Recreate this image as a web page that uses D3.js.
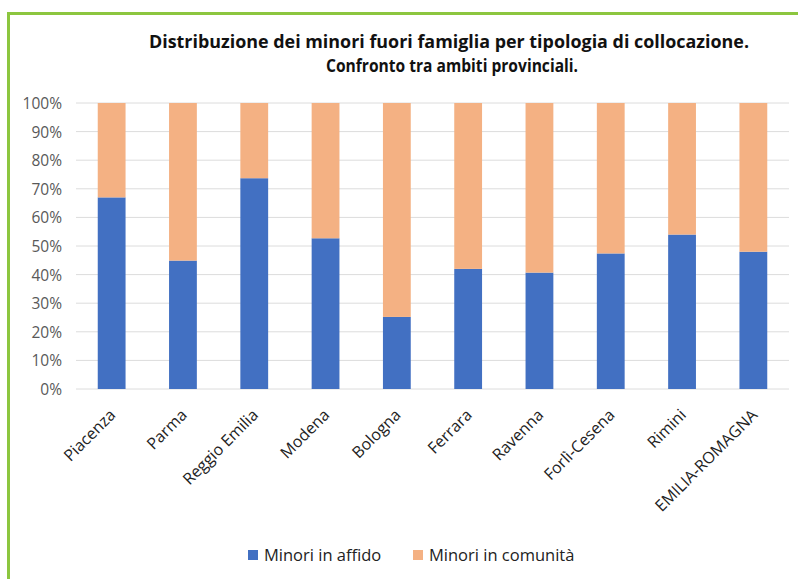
<!DOCTYPE html>
<html>
<head>
<meta charset="utf-8">
<script src="https://cdn.jsdelivr.net/npm/d3@7"></script>
<style>
  html, body { margin: 0; padding: 0; background: #fff; }
  svg { display: block; }
</style>
</head>
<body>
<svg id="chart" width="798" height="579"></svg>
<script>
const categories = ["Piacenza", "Parma", "Reggio Emilia", "Modena", "Bologna", "Ferrara", "Ravenna", "Forlì-Cesena", "Rimini", "EMILIA-ROMAGNA"];
const affido   = [67.0, 44.9, 73.7, 52.7, 25.2, 42.0, 40.7, 47.4, 54.0, 48.0];
const comunita = [33.0, 55.1, 26.3, 47.3, 74.8, 58.0, 59.3, 52.6, 46.0, 52.0];
const seriesNames = ["Minori in affido", "Minori in comunità"];
const yTicks = [0, 10, 20, 30, 40, 50, 60, 70, 80, 90, 100];
const titleLines = ["Distribuzione  dei minori fuori famiglia per tipologia di collocazione.", "Confronto tra ambiti provinciali."];

const colors = ["#4270C2", "#F4B183"];
const svg = d3.select("#chart");
const W = 798, H = 579;
const font = "'Open Sans', 'DejaVu Sans', sans-serif";

// green frame
svg.append("rect").attr("x", 8.5).attr("y", 13.5).attr("width", W + 20).attr("height", H + 20)
  .attr("fill", "#fff").attr("stroke", "#8CC63F").attr("stroke-width", 3);

const margin = { left: 76, right: 9, top: 103, bottom: 190 };
const x = d3.scaleBand().domain(categories).range([margin.left, W - margin.right]).paddingInner(0.61).paddingOuter(0.305);
const y = d3.scaleLinear().domain([0, 100]).range([H - margin.bottom, margin.top]);

// gridlines
svg.append("g").selectAll("line").data(yTicks).join("line")
  .attr("x1", margin.left).attr("x2", W - margin.right)
  .attr("y1", d => y(d)).attr("y2", d => y(d))
  .attr("stroke", "#dcdcdc").attr("stroke-width", 1);

// y axis labels
const yAxis = d3.axisLeft(y).tickValues(yTicks).tickFormat(d => d + "%").tickSize(0).tickPadding(0);
const ya = svg.append("g").attr("transform", `translate(62,0)`).call(yAxis);
ya.select(".domain").remove();
ya.selectAll("text").attr("font-family", font).attr("font-size", 15.5).attr("fill", "#595959").attr("dy", "0.35em");

// stacked bars
const rows = categories.map((c, i) => ({ cat: c, affido: affido[i], comunita: comunita[i] }));
const stack = d3.stack().keys(["affido", "comunita"])(rows);
svg.append("g").selectAll("g").data(stack).join("g")
  .attr("fill", (d, i) => colors[i])
  .selectAll("rect").data(d => d).join("rect")
  .attr("x", d => x(d.data.cat))
  .attr("width", x.bandwidth())
  .attr("y", d => y(d[1]))
  .attr("height", d => y(d[0]) - y(d[1]));

// x axis labels
const xAxis = d3.axisBottom(x).tickSize(0).tickPadding(0);
const xa = svg.append("g").attr("transform", `translate(0,${H - margin.bottom})`).call(xAxis);
xa.select(".domain").remove();
xa.selectAll("text")
  .attr("font-family", font).attr("font-size", 16).attr("fill", "#222")
  .attr("text-anchor", "end")
  .attr("dy", 0).attr("y", 0)
  .attr("transform", "translate(5,27) rotate(-45)");

// title
const tl = [{ t: titleLines[0], x: 449, y: 48, len: 600 }, { t: titleLines[1], x: 452, y: 72, len: 252 }];
svg.append("g").selectAll("text").data(tl).join("text")
  .attr("x", d => d.x).attr("y", d => d.y)
  .attr("text-anchor", "middle")
  .attr("font-family", font).attr("font-weight", "bold").attr("font-size", 18)
  .attr("fill", "#111")
  .attr("textLength", d => d.len).attr("lengthAdjust", "spacingAndGlyphs")
  .text(d => d.t);

// legend
const legendItems = [{ name: seriesNames[0], c: colors[0], x: 248 }, { name: seriesNames[1], c: colors[1], x: 413 }];
const lg = svg.append("g").selectAll("g").data(legendItems).join("g")
  .attr("transform", d => `translate(${d.x},550)`);
lg.append("rect").attr("width", 10).attr("height", 10).attr("fill", d => d.c);
lg.append("text").attr("x", 16).attr("y", 11)
  .attr("font-family", font).attr("font-size", 16.5).attr("fill", "#222")
  .text(d => d.name);
</script>
</body>
</html>
